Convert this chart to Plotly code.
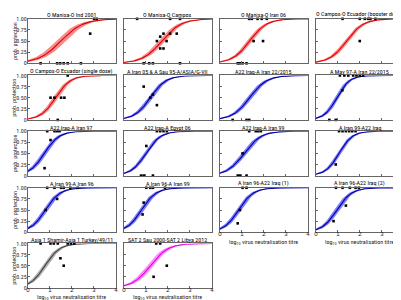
import numpy as np
import plotly.graph_objects as go

titles = [
    "O Manisa-O Ind 2001", "O Manisa-O Campos", "O Manisa-O Iran 06", "O Campos-O Ecuador (booster dose)",
    "O Campos-O Ecuador (single dose)", "A Iran 05 & A Sau 95-A/ASIA/G-VII", "A22 Iraq-A Iran 22/2015", "A May 97-A Iran 22/2015",
    "A22 Iraq-A Iran 97", "A22 Iraq-A Egypt 06", "A22 Iraq-A Iran 99", "A Iran 99-A22 Iraq",
    "A Iran 99-A Iran 96", "A Iran 96-A Iran 99", "A Iran 96-A22 Iraq (1)", "A Iran 96-A22 Iraq (2)",
    "Asia 1 Shamir-Asia 1 Turkey/49/11", "SAT 2 Sau 2000-SAT 2 Libya 2012",
]
serotype = ["O"] * 5 + ["A"] * 11 + ["Asia1", "SAT2"]

# fitted logistic curves (midpoint, slope) and band half-width
fit_mid = [1.5, 1.72, 1.35, 1.39, 1.26, 1.2, 1.35, 0.95, 0.75, 1.0, 1.1, 1.05, 0.8, 0.8, 0.85, 0.95, 0.78, 1.2]
fit_slope = [2.0, 2.3, 2.6, 2.6, 3.0, 2.8, 2.6, 3.5, 3.0, 3.0, 2.6, 3.3, 3.0, 3.0, 3.0, 3.0, 3.0, 2.5]
fit_band = [0.22, 0.15, 0.12, 0.12, 0.12, 0.12, 0.12, 0.1, 0.12, 0.1, 0.12, 0.1, 0.12, 0.12, 0.12, 0.12, 0.12, 0.15]

obs_x = [
    [3.01, 3.13, 2.83, 0.58, 1.33, 1.47, 1.63, 1.81, 2.41],
    [0.6, 2.1, 2.55, 1.65, 1.5, 1.8, 1.94, 1.65, 1.8, 2.1, 2.4, 0.9, 1.15, 1.32, 2.55],
    [1.33, 1.45, 1.71, 1.9, 2.13, 1.53, 1.96, 0.81, 0.91, 1.03, 1.21],
    [1.21, 1.99, 2.22, 2.37, 2.47, 2.7, 1.99],
    [1.03, 1.21, 1.51, 1.66, 1.81, 1.36],
    [0.9, 1.2, 1.32, 1.5],
    [0.58, 1.21, 1.33],
    [1.09, 1.29, 1.47, 1.69, 1.84, 1.99, 2.14, 1.2, 0.61, 0.9],
    [0.88, 1.21, 1.33, 1.44, 1.03, 0.76],
    [1.5, 1.65, 1.8, 1.95, 1.02, 0.78, 0.9, 1.32],
    [1.33, 1.63, 1.74, 1.86, 1.03, 0.81, 0.91, 1.21],
    [1.05, 1.21, 1.36, 1.51, 1.65, 1.8, 0.9],
    [0.88, 1.21, 1.51, 1.63, 1.93, 2.26, 1.33, 0.81],
    [1.02, 1.2, 1.32, 1.87, 0.9, 0.85],
    [1.03, 1.21, 0.91, 0.81],
    [0.91, 1.21, 1.54, 1.8, 1.95, 1.36, 0.8],
    [0.58, 1.03, 1.18, 1.36, 1.81, 1.96, 2.11, 1.48, 1.63],
    [1.47, 1.65, 1.95, 1.35],
]
obs_y = [
    [1, 1, 0.667, 0, 0, 0, 0, 0, 0],
    [1, 1, 1, 0.6, 0.5, 0.667, 0.5, 0.333, 0.333, 0.667, 0.667, 0, 0, 0, 0],
    [1, 1, 1, 1, 1, 0.5, 0.5, 0, 0, 0, 0],
    [1, 1, 1, 1, 1, 1, 0.5],
    [0.5, 0.5, 0.5, 0.5, 1, 0],
    [0.75, 0.5, 0.571, 0.333],
    [0, 0, 0],
    [1, 1, 1, 1, 1, 1, 1, 0.667, 0, 0],
    [1, 1, 1, 1, 0.8, 0.167],
    [1, 1, 1, 1, 0.667, 0, 0, 0],
    [1, 1, 1, 1, 0.5, 0, 0, 0],
    [1, 1, 1, 1, 1, 1, 0.25],
    [1, 1, 1, 1, 1, 1, 0.75, 0.5],
    [1, 1, 1, 1, 0.667, 0.4],
    [1, 1, 0.5, 0.2],
    [1, 1, 1, 1, 1, 0.6, 0.25],
    [1, 1, 1, 1, 1, 1, 1, 0.667, 0.5],
    [1, 1, 0.5, 0.25],
]

x_ticks = [0, 1, 2, 3, 4]
y_ticks = [0, 0.25, 0.5, 0.75, 1.0]
y_tick_text = ["0", "0.25", "0.50", "0.75", "1.00"]
x_title = "log<sub>10</sub> virus neutralisation titre"
y_title = "prob. protection"

styles = {
    "O": ("rgba(245,90,90,0.7)", "#e00000"),
    "A": ("rgba(80,80,255,0.75)", "#0000a0"),
    "Asia1": ("rgba(150,150,150,0.75)", "#404040"),
    "SAT2": ("rgba(255,100,255,0.75)", "#e000e0"),
}

W, H = 401, 300
col_left = [18, 115, 212, 309]
col_w = 89
row_top = [7, 65, 122, 180, 237]
row_h = 45.5
FONT = "Liberation Sans, Arial, sans-serif"
NARROW = "Liberation Sans Narrow, Arial Narrow, Roboto Condensed, Roboto, sans-serif"
TXT = "#222"

fig = go.Figure()
xs = np.linspace(0, 4, 161)


def logistic(x, m, s):
    return 1.0 / (1.0 + np.exp(-s * (x - m)))


annotations = []
for i, t in enumerate(titles):
    r, c = divmod(i, 4)
    ax = "" if i == 0 else str(i + 1)
    band_col, line_col = styles[serotype[i]]
    m, s, d = fit_mid[i], fit_slope[i], fit_band[i]
    lo = logistic(xs, m + d, s)
    hi = logistic(xs, m - d, s)
    mid = logistic(xs, m, s)
    fig.add_trace(go.Scatter(x=xs, y=lo, mode="lines", line=dict(width=0, color=band_col),
                             xaxis="x" + ax, yaxis="y" + ax, showlegend=False, hoverinfo="skip"))
    fig.add_trace(go.Scatter(x=xs, y=hi, mode="lines", line=dict(width=0, color=band_col), fill="tonexty",
                             fillcolor=band_col, xaxis="x" + ax, yaxis="y" + ax, showlegend=False, hoverinfo="skip"))
    fig.add_trace(go.Scatter(x=xs, y=mid, mode="lines", line=dict(width=1.1, color=line_col),
                             xaxis="x" + ax, yaxis="y" + ax, showlegend=False))
    fig.add_trace(go.Scatter(x=obs_x[i], y=obs_y[i], mode="markers",
                             marker=dict(symbol="square", size=2.6, color="black"), cliponaxis=False,
                             xaxis="x" + ax, yaxis="y" + ax, showlegend=False))

    x0 = col_left[c] / W
    x1 = (col_left[c] + col_w) / W
    y1 = 1 - row_top[r] / H
    y0 = 1 - (row_top[r] + row_h) / H
    show_x = (r == 4) or (r == 3 and c >= 2)
    show_y = c == 0
    fig.layout["xaxis" + ax] = dict(
        domain=[x0, x1], range=[0, 4], anchor="y" + ax, showgrid=False, zeroline=False,
        showline=True, mirror=True, linecolor="#666", linewidth=0.8,
        ticks="inside", ticklen=2, tickcolor="#666", tickvals=x_ticks,
        showticklabels=show_x, tickfont=dict(size=6, family=FONT, color=TXT),
        ticklabelstandoff=-4,
    )
    fig.layout["yaxis" + ax] = dict(
        domain=[y0, y1], range=[0, 1], anchor="x" + ax, showgrid=False, zeroline=False,
        showline=True, mirror=True, linecolor="#666", linewidth=0.8,
        ticks="inside", ticklen=2, tickcolor="#666", tickvals=y_ticks, ticktext=y_tick_text,
        showticklabels=show_y, tickfont=dict(size=6, family=NARROW, color=TXT),
        ticklabelstandoff=-1,
    )
    annotations.append(dict(text=t, x=(x0 + x1) / 2, y=y1, xref="paper", yref="paper",
                            xanchor="center", yanchor="bottom", showarrow=False, yshift=-1.5,
                            font=dict(size=6, family=NARROW, color="black")))
    if show_x:
        annotations.append(dict(text=x_title, x=(x0 + x1) / 2, y=y0, xref="paper", yref="paper",
                                xanchor="center", yanchor="top", showarrow=False, yshift=-3.5,
                                font=dict(size=6, family=NARROW, color=TXT)))
    if show_y:
        annotations.append(dict(text=y_title, x=0, y=(y0 + y1) / 2, xref="paper", yref="paper",
                                xanchor="left", yanchor="middle", showarrow=False, textangle=-90,
                                xshift=-1.5, font=dict(size=6, family=NARROW, color=TXT)))

fig.update_layout(width=W, height=H, margin=dict(l=0, r=0, t=0, b=0),
                  paper_bgcolor="white", plot_bgcolor="white", annotations=annotations)
fig.write_html("out.html")
